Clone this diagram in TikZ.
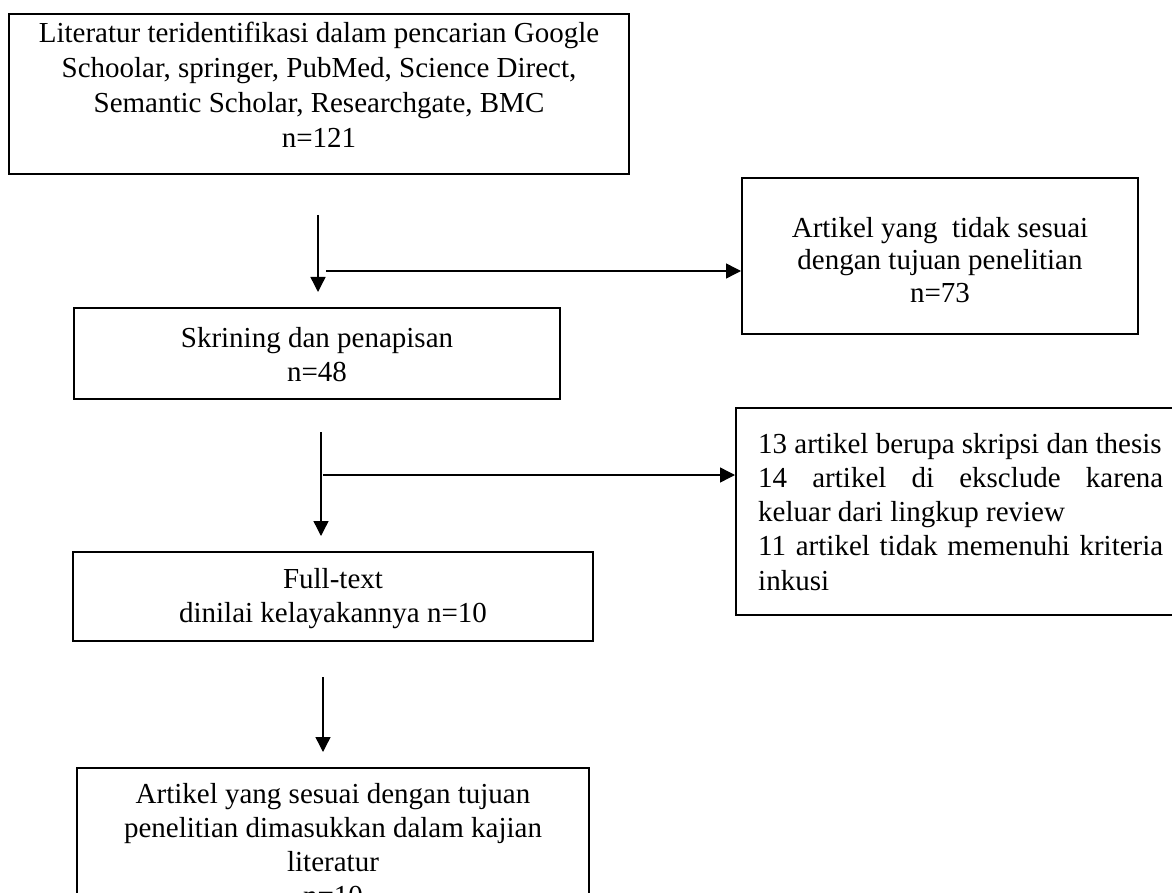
\documentclass[tikz,border=0pt]{standalone}
\usepackage{fontspec}
\setmainfont{Liberation Serif}
\usetikzlibrary{arrows.meta}
\newcommand\fl{\rule{0pt}{21pt}}
\begin{document}
\begin{tikzpicture}[x=1pt,y=-1pt,
  box/.style={draw=black, line width=2pt, rectangle, inner sep=0pt},
  txt/.style={inner sep=0pt, anchor=north, align=center, font=\fontsize{29}{34}\selectfont},
  arr/.style={line width=1.4pt, -{Triangle[length=15pt,width=15pt]}}]
\useasboundingbox (0,0) rectangle (1172,893);
\clip (0,0) rectangle (1172,893);
\fill[white] (0,0) rectangle (1172,893);
% boxes
\node[box, minimum width=620pt, minimum height=160pt] (b1) at (319,94) {};
\node[box, minimum width=396pt, minimum height=156pt] (b2) at (940,256) {};
\node[box, minimum width=486pt, minimum height=91pt] (b3) at (317,353.5) {};
\node[box, minimum width=470pt, minimum height=207pt] (b4) at (971,511.5) {};
\node[box, minimum width=520pt, minimum height=89pt] (b5) at (333,596.5) {};
\node[box, minimum width=512pt, minimum height=180pt] (b6) at (333,858) {};
% texts
\node[txt, font=\fontsize{29}{35}\selectfont] (t1) at (319,21) {\fl Literatur teridentifikasi dalam pencarian Google\\Schoolar, springer, PubMed, Science Direct,\\Semantic Scholar, Researchgate, BMC\\n=121};
\node[txt, font=\fontsize{29}{32.5}\selectfont] (t2) at (940,216) {\fl Artikel yang\ \ tidak sesuai\\dengan tujuan penelitian\\n=73};
\node[txt] (t3) at (317,326) {\fl Skrining dan penapisan\\n=48};
\node[inner sep=0pt, anchor=north west] (t4) at (758,432) {\parbox[t]{405pt}{\fontsize{29}{34.25}\selectfont\parindent=0pt\parskip=0pt\hyphenpenalty=10000\fl 13 artikel berupa skripsi dan thesis\par
14 artikel di eksclude karena\linebreak keluar dari lingkup review\par
11 artikel tidak memenuhi kriteria\linebreak inkusi\par}};
\node[txt] (t5) at (333,567) {\fl Full-text\\dinilai kelayakannya n=10};
\node[txt] (t6) at (333,782) {\fl Artikel yang sesuai dengan tujuan\\penelitian dimasukkan dalam kajian\\literatur\\n=10};
% connectors
\coordinate (a1s) at (318,215);
\coordinate (a1e) at (318,292);
\draw[arr] (a1s) -- (a1e);
\coordinate (h1s) at (326,271);
\draw[arr] (h1s) -- (h1s -| b2.west);
\coordinate (a2s) at (321,432);
\coordinate (a2e) at (321,536);
\draw[arr] (a2s) -- (a2e);
\coordinate (h2s) at (323,475);
\draw[arr] (h2s) -- (h2s -| b4.west);
\coordinate (a3s) at (323,677);
\coordinate (a3e) at (323,752);
\draw[arr] (a3s) -- (a3e);
\end{tikzpicture}
\end{document}
